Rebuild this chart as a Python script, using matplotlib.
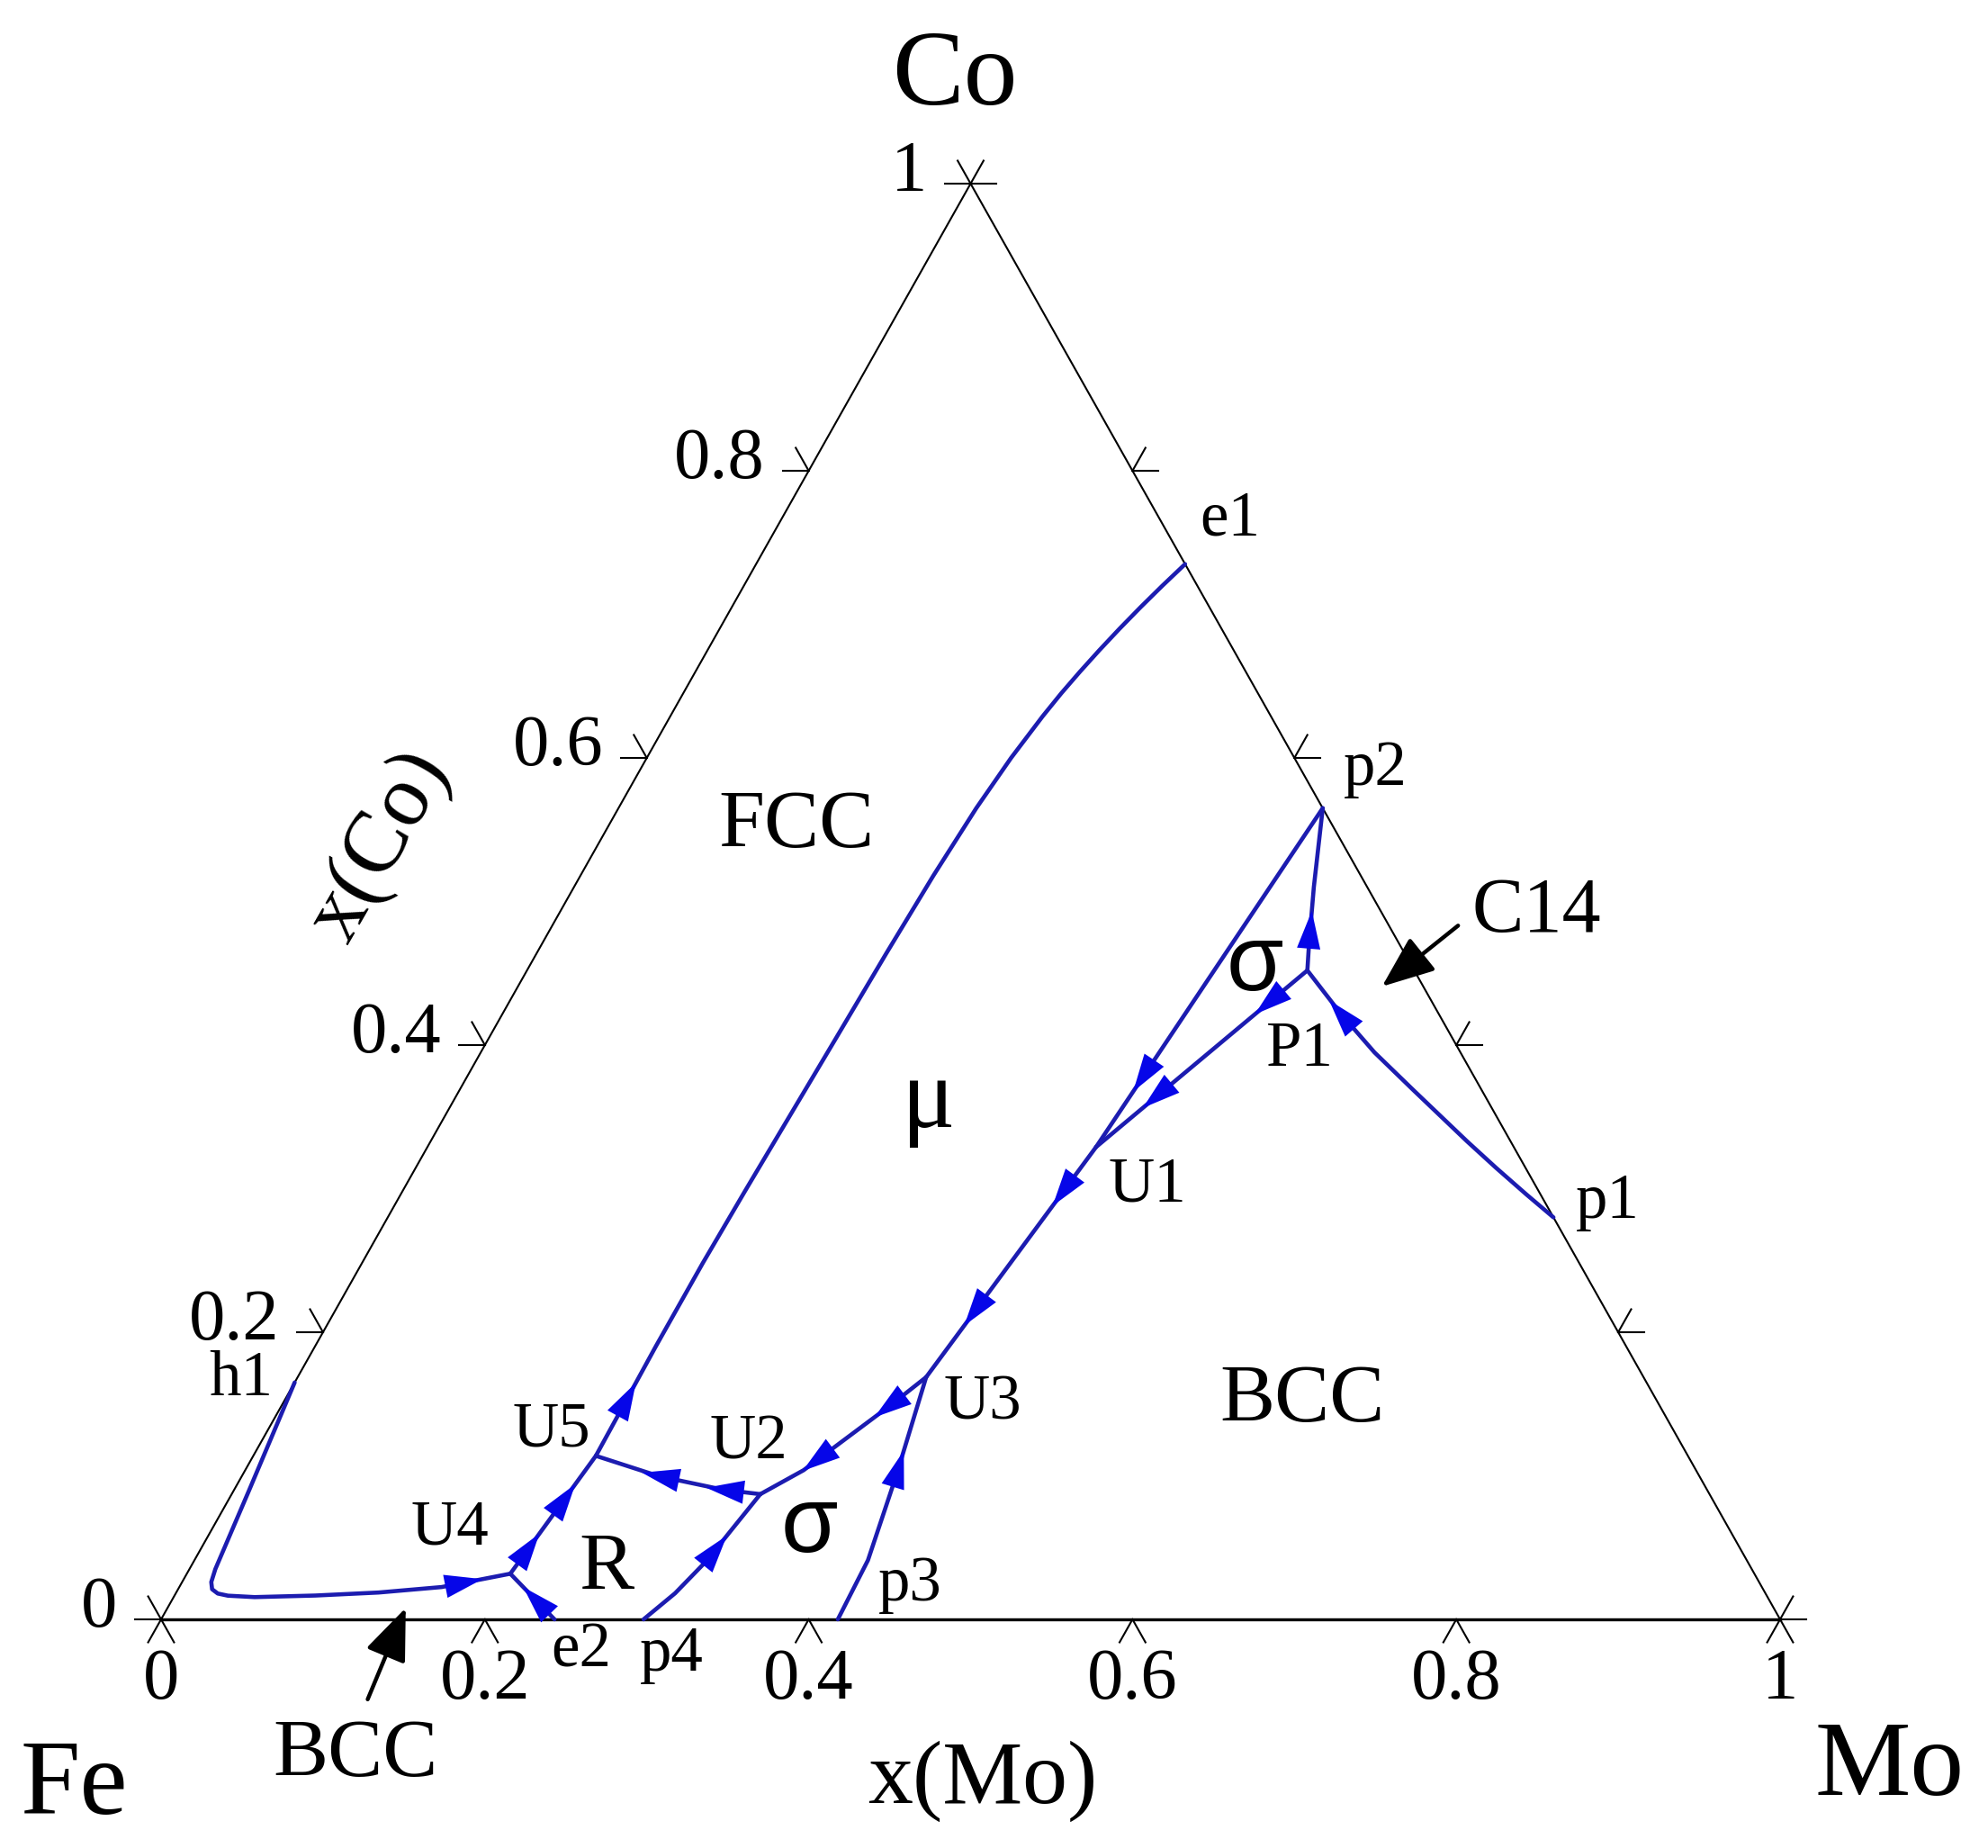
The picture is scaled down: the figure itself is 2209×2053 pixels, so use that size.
import numpy as np
import matplotlib.pyplot as plt
from matplotlib.patches import Polygon

plt.rcParams['font.family'] = ['Liberation Serif', 'DejaVu Serif']

# liquidus projection Fe-Co-Mo, univariant lines as (x(Mo), x(Co)),
# each listed in the direction of its arrows
u5_e1_mo = [0.2116, 0.2105, 0.2105, 0.2115, 0.2130, 0.2145, 0.2160, 0.2180, 0.2210, 0.2250,
            0.2300, 0.2335, 0.2375, 0.2420, 0.2470, 0.2525, 0.2585, 0.2650]
u5_e1_co = [0.1139, 0.1900, 0.2480, 0.2980, 0.3520, 0.4060, 0.4640, 0.5180, 0.5650, 0.6000,
            0.6290, 0.6450, 0.6600, 0.6750, 0.6900, 0.7050, 0.7200, 0.7350]
u4_u5_mo = [0.1998, 0.2116]
u4_u5_co = [0.0318, 0.1139]
e2_u4_mo = [0.243, 0.1998]
e2_u4_co = [0.0, 0.0318]
h1_u4_mo = [0.0, 0.0094, 0.016, 0.018, 0.021, 0.026, 0.033, 0.050, 0.087, 0.125, 0.162, 0.1998]
h1_u4_co = [0.165, 0.090, 0.035, 0.026, 0.0210, 0.0180, 0.0165, 0.0155, 0.0166, 0.0187, 0.0225, 0.0318]
u2_u5_mo = [0.3265, 0.302, 0.2577, 0.2116]
u2_u5_co = [0.0872, 0.0903, 0.0997, 0.1139]
p4_u2_mo = [0.298, 0.3084, 0.3167, 0.3211, 0.3265]
p4_u2_co = [0.0, 0.0182, 0.0412, 0.0621, 0.0872]
u3_u2_mo = [0.3882, 0.3765, 0.3535, 0.3449, 0.3265]
u3_u2_co = [0.1687, 0.1499, 0.1164, 0.1039, 0.0872]
p3_u3_mo = [0.418, 0.416, 0.4041, 0.3935, 0.3882]
p3_u3_co = [0.0, 0.0412, 0.0997, 0.1457, 0.1687]
u1_u3_mo = [0.413, 0.3882]
u1_u3_co = [0.329, 0.1687]
p2_u1_mo = [0.435, 0.424, 0.413]
p2_u1_co = [0.565, 0.447, 0.329]
P1_u1_mo = [0.482, 0.413]
P1_u1_co = [0.452, 0.329]
P1_p2_mo = [0.482, 0.474, 0.457, 0.435]
P1_p2_co = [0.452, 0.470, 0.510, 0.565]
p1_P1_mo = [0.72, 0.6954, 0.6673, 0.6401, 0.5895, 0.5520, 0.5183, 0.4994, 0.482]
p1_P1_co = [0.28, 0.2959, 0.3145, 0.3330, 0.3684, 0.3949, 0.4214, 0.4373, 0.452]

ticks = [0, 0.2, 0.4, 0.6, 0.8, 1]
tick_labels = ['0', '0.2', '0.4', '0.6', '0.8', '1']

LINE = '#1c1cb0'
HEAD = '#0606e8'


def tern(mo, co):
    mo = np.asarray(mo, float)
    co = np.asarray(co, float)
    return mo + co / 2, co


fig = plt.figure(figsize=(22.09, 20.53), dpi=100)
ax = fig.add_axes([0, 0, 1, 1])
ax.set_xlim(-179 / 1799, (2209 - 179) / 1799)
ax.set_ylim(-(2053 - 1799) / 1595, 1799 / 1595)
ax.axis('off')


def head(mo, co, frac, size=42, half=13):
    X, Y = tern(mo, co)
    pts = ax.transData.transform(np.column_stack([X, Y]))
    seg = np.hypot(*np.diff(pts, axis=0).T)
    s = np.concatenate([[0], np.cumsum(seg)])
    d = frac * s[-1]
    i = int(np.clip(np.searchsorted(s, d) - 1, 0, len(seg) - 1))
    u = (pts[i + 1] - pts[i]) / seg[i]
    c = pts[i] + u * (d - s[i])
    n = np.array([-u[1], u[0]])
    tip = c + u * size * 0.5
    base = c - u * size * 0.5
    tri = np.array([tip, base + n * half, base - n * half])
    tri = ax.transData.inverted().transform(tri)
    ax.add_patch(Polygon(tri, closed=True, facecolor=HEAD, edgecolor='none', zorder=4))


# triangle
X, Y = tern([0, 1, 0, 0], [0, 0, 1, 0])
ax.plot(X, Y, color='k', lw=1.5, zorder=2)
ax.plot(*tern([0, 1], [0, 0]), color='k', lw=2.4, zorder=2)

t = 0.016
for v in ticks:
    for a, b in [((0, v), (-t, v)), ((0, v), (-t, v + t)),
                 ((1 - v, v), (1 - v + t, v)), ((1 - v, v), (1 - v, v + t)),
                 ((v, 0), (v, -t)), ((v, 0), (v + t, -t))]:
        ax.plot(*tern([a[0], b[0]], [a[1], b[1]]), color='k', lw=1.5)

fs_tick = 58
for v, lab in zip(ticks, tick_labels):
    x, y = tern(0, v)
    ax.text(x - 0.027, y + 0.007, lab, ha='right', va='center', fontsize=fs_tick)
    x, y = tern(v, 0)
    ax.text(x, -0.043, lab, ha='center', va='center', fontsize=fs_tick)

paths = [
    (u5_e1_mo, u5_e1_co, [0.06]),
    (u4_u5_mo, u4_u5_co, [0.21, 0.63]),
    (e2_u4_mo, e2_u4_co, [0.41]),
    (h1_u4_mo, h1_u4_co, [0.91]),
    (u2_u5_mo, u2_u5_co, [0.21, 0.60]),
    (p4_u2_mo, p4_u2_co, [0.58]),
    (u3_u2_mo, u3_u2_co, [0.23, 0.67]),
    (p3_u3_mo, p3_u3_co, [0.63]),
    (u1_u3_mo, u1_u3_co, [0.19, 0.71]),
    (p2_u1_mo, p2_u1_co, [0.79]),
    (P1_u1_mo, P1_u1_co, [0.18, 0.71]),
    (P1_p2_mo, P1_p2_co, [0.25]),
    (p1_P1_mo, p1_P1_co, [0.84]),
]
for mo, co, fr in paths:
    ax.plot(*tern(mo, co), color=LINE, lw=3.3, zorder=3,
            solid_capstyle='round', solid_joinstyle='round')
    for f in fr:
        head(mo, co, f)

# corner and axis titles
ax.text(0.4902, 1.0733, 'Co', ha='center', va='center', fontsize=86)
ax.text(-0.054, -0.1175, 'Fe', ha='center', va='center', fontsize=86)
ax.text(1.0673, -0.1042, 'Mo', ha='center', va='center', fontsize=86)
ax.text(0.5074, -0.113, 'x(Mo)', ha='center', va='center', fontsize=72)
ax.text(0.1355, 0.538, 'x(Co)', ha='center', va='center', fontsize=70, rotation=60)

# invariant points and phase fields
pt = 51
big = 66
labels = [
    ('e1', 0.6601, 0.7659, pt), ('p2', 0.7502, 0.5919, pt), ('C14', 0.8497, 0.4920, 62),
    ('P1', 0.7032, 0.3966, pt), ('U1', 0.6092, 0.3021, pt), ('p1', 0.8935, 0.2906, pt),
    ('U3', 0.5074, 0.1502, pt), ('U2', 0.3626, 0.1228, pt), ('U5', 0.2412, 0.1316, pt),
    ('U4', 0.1785, 0.0636, pt), ('p3', 0.4628, 0.0239, pt), ('h1', 0.0493, 0.1670, pt),
    ('e2', 0.2592, -0.0221, pt), ('p4', 0.3156, -0.0247, pt),
    ('FCC', 0.3923, 0.5521, big), ('BCC', 0.7048, 0.1519, big), ('R', 0.2749, 0.0345, big),
    ('BCC', 0.1198, -0.0954, big), ('\u03bc', 0.4738, 0.3595, 80),
]
for s, x, y, f in labels:
    ax.text(x, y, s, ha='center', va='center', fontsize=f)
for x, y in [(0.6758, 0.4549), (0.4002, 0.0636)]:
    ax.text(x, y, '\u03c3', ha='center', va='center', fontsize=74, family='Liberation Sans')

for tail, tip in [((0.8011, 0.4832), (0.7541, 0.4408)), ((0.1276, -0.0557), (0.1511, 0.008))]:
    ax.annotate('', xy=tip, xytext=tail,
                arrowprops=dict(arrowstyle='-|>,head_length=0.8,head_width=0.32', lw=3.2,
                                color='k', mutation_scale=45, shrinkA=0, shrinkB=0))

fig.savefig('out.png', dpi=100)
